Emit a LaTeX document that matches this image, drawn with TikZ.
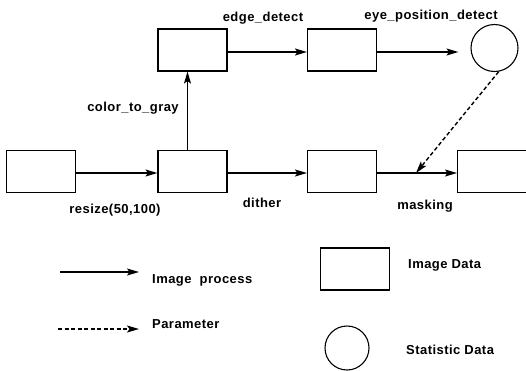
\documentclass[tikz,border=0pt]{standalone}
\usepackage{fontspec}
\setmainfont{Liberation Sans}[LetterSpace=3.5]
\usetikzlibrary{arrows.meta}
\begin{document}
\begin{tikzpicture}[x=1pt,y=-1pt,
  databox/.style={draw,line width=1.1pt,minimum width=69pt,minimum height=42pt,inner sep=0pt},
  statcirc/.style={draw,line width=1.1pt,circle,minimum size=#1,inner sep=0pt},
  proc/.style={line width=1.4pt,-{Stealth[length=12pt,width=7pt,inset=2.5pt]}},
  param/.style={proc,dashed,dash pattern=on 4pt off 2.5pt},
  lbl/.style={font=\fontsize{13}{15}\selectfont\bfseries,inner sep=0pt}]
\clip (0,0) rectangle (526,370);
\fill[white] (0,0) rectangle (526,370);
% main row
\node[databox] (a) at (41,171.5) {};
\node[databox] (b) at (192.5,171.5) {};
\node[databox] (c) at (342,171.5) {};
\node[databox,minimum width=71pt,anchor=west] (d) at (457,171.5) {};
% upper row
\node[databox] (t1) at (192.5,50) {};
\node[databox] (t2) at (342,50) {};
\node[statcirc=47pt] (s) at (494.5,48) {};
% connectors
\draw[proc] (a.east |- 0,173) coordinate (a1) -- (b.west |- a1);
\draw[proc] (b.east |- 0,173) coordinate (b1) -- (c.west |- b1);
\draw[proc] (c.east |- 0,173) coordinate (c1) -- (d.west |- c1);
\draw[proc] (b.north -| 187.5,0) coordinate (b2) -- (t1.south -| b2);
\draw[proc] (t1.east |- 0,52) coordinate (t11) -- (t2.west |- t11);
\draw[proc,shorten >=12pt] (t2.east |- 0,52) coordinate (t21) -- (s.west |- t21);
\coordinate (m) at (416,173);
\draw[param] (s.-80) -- (m);
% labels
\node[lbl] (l1) at (263,18) {edge\_detect};
\node[lbl] (l2) at (431,16) {eye\_position\_detect};
\node[lbl] (l3) at (133,108) {color\_to\_gray};
\node[lbl] (l4) at (115,210) {resize(50,100)};
\node[lbl] (l5) at (262,203) {dither};
\node[lbl] (l6) at (425,206) {masking};
% legend
\coordinate (p1) at (60,272);
\coordinate (p2) at (139,272);
\draw[proc] (p1) -- (p2);
\node[lbl,anchor=west] (lp) at (152,280) {Image\ \ process};
\coordinate (q1) at (58,329);
\coordinate (q2) at (139,329);
\draw[param] (q1) -- (q2);
\node[lbl,anchor=west] (lq) at (152,324) {Parameter};
\node[databox] (lb) at (355,269) {};
\node[lbl,anchor=west] (lbt) at (408,265) {Image Data};
\node[statcirc=44pt] (lc) at (347,348) {};
\node[lbl,anchor=west] (lct) at (406,350) {Statistic Data};
\end{tikzpicture}
\end{document}
